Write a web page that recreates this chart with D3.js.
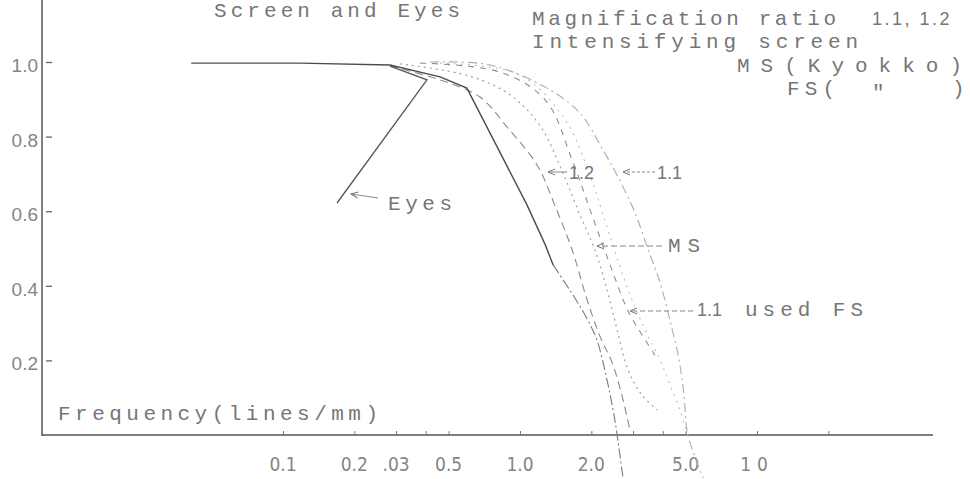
<!DOCTYPE html>
<html>
<head>
<meta charset="utf-8">
<script src="https://cdn.jsdelivr.net/npm/d3@7"></script>
<style>
  html, body { margin: 0; padding: 0; background: #fff; }
  svg { display: block; }
</style>
</head>
<body>
<svg id="chart" width="970" height="479"></svg>
<script>
// response vs frequency (lines/mm)
const eyes = [[0.283, 0.989], [0.405, 0.952], [0.169, 0.622]];
const screen = [[0.041, 0.997], [0.118, 0.997], [0.283, 0.992], [0.460, 0.960], [0.597, 0.930],
  [1.07, 0.617], [1.28, 0.509], [1.38, 0.456]];
const screenTail = [[1.38, 0.456], [1.62, 0.389], [1.88, 0.322], [2.11, 0.255], [2.33, 0.147],
  [2.47, 0.067], [2.57, 0], [2.72, -0.115]];
const ratio12 = [[0.283, 0.989], [0.460, 0.952], [0.678, 0.906], [0.881, 0.826], [1.18, 0.724],
  [1.40, 0.617], [1.66, 0.496], [1.92, 0.362], [2.18, 0.263], [2.44, 0.196], [2.69, 0.107], [2.91, 0.013]];
const ms = [[0.312, 0.995], [0.615, 0.962], [0.907, 0.912], [1.21, 0.831], [1.50, 0.710], [1.79, 0.590],
  [2.07, 0.496], [2.33, 0.389], [2.57, 0.282], [2.86, 0.174], [3.27, 0.107], [3.79, 0.067]];
const fs11 = [[0.379, 0.997], [0.823, 0.973], [1.28, 0.898], [1.66, 0.737], [2.01, 0.590],
  [2.40, 0.456], [2.86, 0.332], [3.24, 0.273], [3.71, 0.214]];
const ratio11 = [[0.417, 1.000], [0.747, 0.992], [1.30, 0.930], [1.79, 0.863], [2.24, 0.764],
  [2.59, 0.692], [3.06, 0.595], [3.44, 0.504], [3.90, 0.408], [4.34, 0.295], [4.69, 0.201],
  [4.92, 0.107], [5.11, 0], [5.92, -0.115]];
const fs12 = [[0.460, 0.997], [1.00, 0.965], [1.55, 0.845], [1.97, 0.697], [2.35, 0.550],
  [2.86, 0.389], [3.37, 0.282], [3.90, 0.201], [4.30, 0.134], [4.73, 0.067], [5.11, 0]];

const xTickValues = [0.1, 0.2, 0.3, 0.4, 0.5, 1, 2, 3, 4, 5, 10, 20];
const xLabelValues = [0.1, 0.2, 0.3, 0.5, 1, 2, 5, 10];
const xLabelTexts = ['0.1', '0.2', '.03', '0.5', '1.0', '2.0', '5.0', '10'];
const yTickValues = [0.2, 0.4, 0.6, 0.8, 1.0];
const yLabelTexts = ['0.2', '0.4', '0.6', '0.8', '1.0'];

const svg = d3.select('#chart');

const x = d3.scaleLog().domain([0.1, 10]).range([283, 757]);
const y = d3.scaleLinear().domain([0, 1]).range([435, 62]);

const mono = "'Liberation Mono', 'DejaVu Sans Mono', monospace";
const sans = "'Liberation Sans', Arimo, sans-serif";
const narrow = "'Liberation Sans Narrow', 'DejaVu Sans Condensed', 'Liberation Sans', sans-serif";
const typeInk = '#767676';
const labelInk = '#858585';

/****************** arrow head ******************/
svg.append('defs').append('marker')
  .attr('id', 'head')
  .attr('viewBox', '-8 -5 10 10')
  .attr('refX', 0)
  .attr('refY', 0)
  .attr('markerWidth', 10)
  .attr('markerHeight', 10)
  .attr('markerUnits', 'userSpaceOnUse')
  .attr('orient', 'auto')
  .append('path')
  .attr('d', 'M-7,-3L0,0L-7,3')
  .attr('fill', 'none')
  .attr('stroke', '#777')
  .attr('stroke-width', 1);

/****************** axes ******************/
svg.append('line')
  .attr('x1', 42).attr('x2', 42)
  .attr('y1', 0).attr('y2', 436)
  .attr('stroke', '#555')
  .attr('stroke-width', 1.5);

svg.append('line')
  .attr('x1', 42).attr('x2', 933)
  .attr('y1', 435).attr('y2', 435)
  .attr('stroke', '#555')
  .attr('stroke-width', 1.5);

svg.append('g')
  .attr('transform', 'translate(0,435)')
  .call(d3.axisBottom(x).tickValues(xTickValues).tickSize(-4).tickFormat(''))
  .call(g => g.select('.domain').remove())
  .call(g => g.selectAll('.tick line').attr('stroke', '#777'));

svg.append('g')
  .attr('transform', 'translate(46,0)')
  .call(d3.axisRight(y).tickValues(yTickValues).tickSize(6).tickFormat(''))
  .call(g => g.select('.domain').remove())
  .call(g => g.selectAll('.tick line').attr('stroke', '#666').attr('stroke-width', 1.3));

svg.append('g')
  .selectAll('text')
  .data(xLabelValues)
  .join('text')
  .text((d, i) => xLabelTexts[i])
  .attr('x', d => x(d))
  .attr('y', 471)
  .attr('text-anchor', 'middle')
  .attr('font-family', narrow)
  .attr('font-size', 19)
  .attr('letter-spacing', (d, i) => xLabelTexts[i] === '10' ? 6 : 0)
  .attr('fill', labelInk);

svg.append('g')
  .selectAll('text')
  .data(yTickValues)
  .join('text')
  .text((d, i) => yLabelTexts[i])
  .attr('x', 38)
  .attr('y', d => y(d) + 10)
  .attr('text-anchor', 'end')
  .attr('font-family', sans)
  .attr('font-size', 19)
  .attr('fill', labelInk);

/****************** curves ******************/
const line = d3.line()
  .x(d => x(d[0]))
  .y(d => y(d[1]));

const curves = [
  { pts: fs12, color: '#bdbdbd', width: 1.1, dash: '2,5', smooth: true },
  { pts: ratio11, color: '#acacac', width: 1.1, dash: '9,4,2,4', smooth: true },
  { pts: fs11, color: '#8e8e8e', width: 1.1, dash: '6,6', smooth: true },
  { pts: ms, color: '#a0a0a0', width: 1.2, dash: '2,4', smooth: true },
  { pts: ratio12, color: '#8a8a8a', width: 1.1, dash: '8,5', smooth: true },
  { pts: screenTail, color: '#7a7a7a', width: 1.1, dash: '10,3,2,3', smooth: true },
  { pts: screen, color: '#4d4d4d', width: 1.4, dash: null, smooth: false },
  { pts: eyes, color: '#555', width: 1.3, dash: null, smooth: false },
];

curves.forEach(c => {
  svg.append('path')
    .attr('d', line.curve(c.smooth ? d3.curveCatmullRom.alpha(0.5) : d3.curveLinear)(c.pts))
    .attr('fill', 'none')
    .attr('stroke', c.color)
    .attr('stroke-width', c.width)
    .attr('stroke-dasharray', c.dash);
});

/****************** typed texts ******************/
function typed(txt, px, py, len) {
  return svg.append('text')
    .text(txt)
    .attr('x', px)
    .attr('y', py)
    .attr('textLength', len)
    .attr('lengthAdjust', 'spacing')
    .attr('font-family', mono)
    .attr('font-size', 21)
    .attr('fill', typeInk);
}

function plain(txt, px, py) {
  return svg.append('text')
    .text(txt)
    .attr('x', px)
    .attr('y', py)
    .attr('font-family', sans)
    .attr('font-size', 18)
    .attr('fill', typeInk);
}

function arrow(x1, y1, x2, y2, dash) {
  svg.append('line')
    .attr('x1', x1).attr('y1', y1)
    .attr('x2', x2).attr('y2', y2)
    .attr('stroke', '#888')
    .attr('stroke-width', 1)
    .attr('stroke-dasharray', dash)
    .attr('marker-end', 'url(#head)');
}

typed('Screen and Eyes', 214, 17, 246);
typed('Magnification ratio', 532, 25, 304);
plain('1.1, 1.2', 872, 25).attr('letter-spacing', 2.5);
typed('Intensifying screen', 532, 48, 326);
typed('MS(Kyokko)', 737, 72, 225);
typed('FS(', 787, 95, 48);
typed('"', 872, 99, 10);
typed(')', 952, 95, 12);

typed('Frequency(lines/mm)', 58, 420, 320);

// Eyes
arrow(378, 198, 351, 194, null);
typed('Eyes', 388, 210, 64);

// ratio labels
arrow(567, 172, 548, 172, null);
plain('1.2', 569, 179);
arrow(655, 172, 623, 172, '3,2');
plain('1.1', 657, 179);

// MS
arrow(662, 246, 597, 246, '6,3');
typed('MS', 668, 252, 32);

// 1.1 used FS
arrow(693, 311, 630, 311, '5,3');
plain('1.1', 697, 316);
typed('used FS', 745, 316, 118);
</script>
</body>
</html>
